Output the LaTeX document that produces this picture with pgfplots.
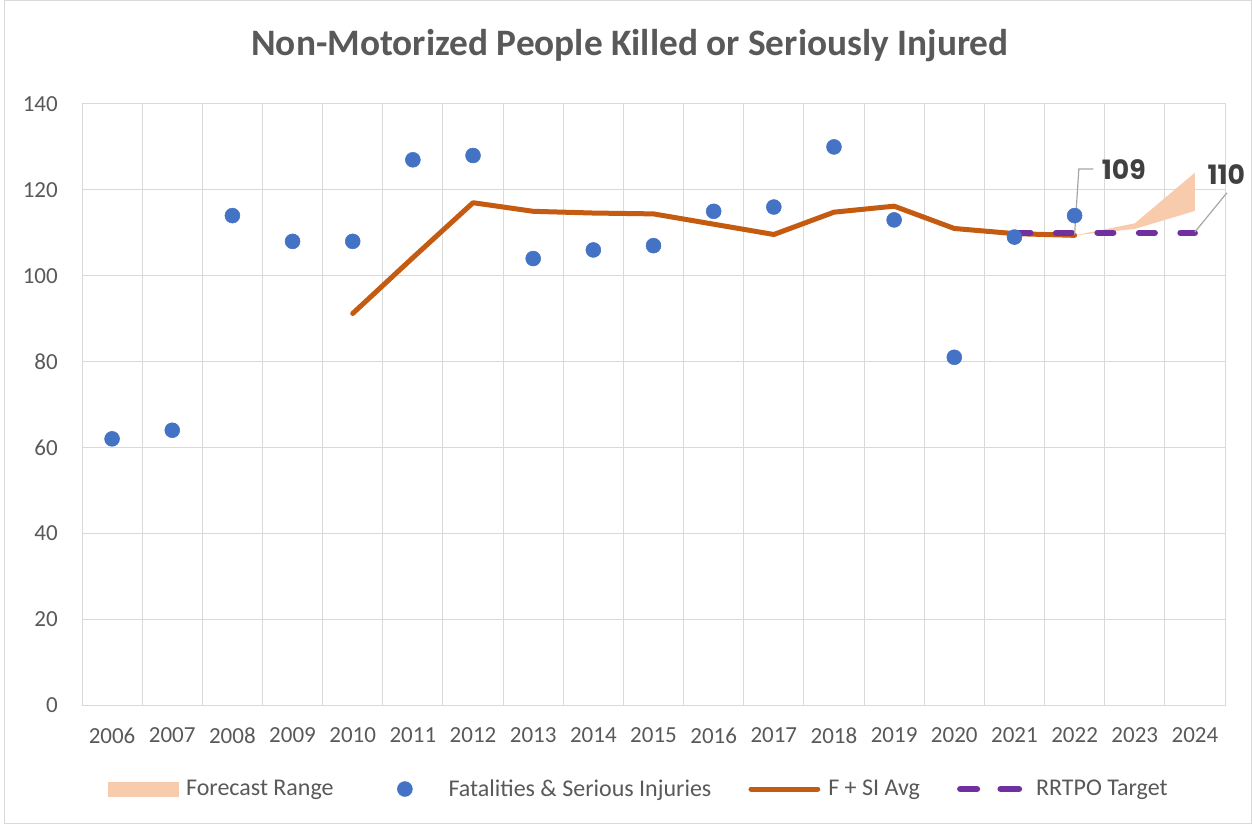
\documentclass[border=0pt]{standalone}
\usepackage{fontspec}
\setmainfont{Carlito}
\newfontfamily\poppins{Poppins}
\usepackage{pgfplots}
\pgfplotsset{compat=1.18}
\definecolor{gridc}{HTML}{D9D9D9}
\definecolor{txt}{HTML}{595959}
\definecolor{dotc}{HTML}{4472C4}
\definecolor{avgc}{HTML}{C55A11}
\definecolor{tgtc}{HTML}{7030A0}
\definecolor{fcc}{HTML}{F8CBAD}
\definecolor{lblc}{HTML}{404040}
\definecolor{leadc}{HTML}{A6A6A6}
\begin{document}
\begin{tikzpicture}[x=0.75pt,y=0.75pt]
\useasboundingbox (0,0) rectangle (1252,824);
\draw[gridc, line width=0.75pt] (4.5,0.5) rectangle (1251.5,823.5);
\node[txt, font=\fontsize{28}{33}\selectfont\bfseries] at (630,778) {Non-Motorized People Killed or Seriously Injured};
\begin{axis}[
  at={(61.5pt,89.25pt)}, anchor=south west,
  scale only axis, width=857.25pt, height=450.75pt,
  xmin=0, xmax=19, ymin=0, ymax=140,
  xtick={0.5,1.5,2.5,3.5,4.5,5.5,6.5,7.5,8.5,9.5,10.5,11.5,12.5,13.5,14.5,15.5,16.5,17.5,18.5},
  xticklabels={2006,2007,2008,2009,2010,2011,2012,2013,2014,2015,2016,2017,2018,2019,2020,2021,2022,2023,2024},
  minor xtick={0,1,...,19},
  ytick={0,20,...,140},
  xminorgrids, ymajorgrids,
  grid style={gridc, line width=0.75pt},
  minor grid style={gridc, line width=0.75pt},
  axis line style={gridc, line width=0.75pt},
  major tick length=0pt, minor tick length=0pt,
  tick style={draw=none},
  /pgf/number format/assume math mode=true,
  ticklabel style={font=\fontsize{17.25}{20}\selectfont, text=txt},
  xticklabel style={inner sep=0pt, anchor=north, yshift=-17pt},
  yticklabel style={inner sep=0pt, anchor=east, xshift=-18pt},
  clip=false,
  legend columns=4,
  legend style={at={(axis description cs:0.0227,-0.1398)}, anchor=west, draw=none, fill=none, inner sep=0pt,
    font=\fontsize{18}{21}\selectfont, text=txt,
    nodes={inner sep=0pt, anchor=west},
    /tikz/every odd column/.append style={column sep=6pt},
    /tikz/every even column/.append style={column sep=27.75pt}},
]
% forecast range
\addplot[fill=fcc, draw=none, forget plot] coordinates {(16.5,109.4) (17.5,112.2) (18.5,124.0) (18.5,115.1) (17.5,110.9) (16.5,109.4)} -- cycle;
% 5-year average
\addplot[avgc, line width=3.75pt, line cap=round, line join=round, forget plot] coordinates {
(4.5,91.2) (5.5,104.2) (6.5,117.0) (7.5,115.0) (8.5,114.6) (9.5,114.4) (10.5,112.0) (11.5,109.6) (12.5,114.8) (13.5,116.2) (14.5,111.0) (15.5,109.8) (16.5,109.4)};
% target
\addplot[tgtc, line width=4.5pt, line cap=round, dash pattern=on 12pt off 19.1pt, forget plot] coordinates {
(15.5,110) (16.5,110) (17.5,110) (18.5,110)};
% annual values
\addplot[only marks, mark=*, mark size=5.6pt, mark options={draw=dotc, fill=dotc}, forget plot] coordinates {
(0.5,62) (1.5,64) (2.5,114) (3.5,108) (4.5,108) (5.5,127) (6.5,128) (7.5,104) (8.5,106) (9.5,107) (10.5,115) (11.5,116) (12.5,130) (13.5,113) (14.5,81) (15.5,109) (16.5,114)};
% leader lines and labels
\draw[leadc, line width=0.9pt] (axis cs:16.5,109.6) -- (axis cs:16.57,124.85) -- (axis cs:16.81,124.85);
\draw[leadc, line width=0.9pt] (axis cs:18.5,110.2) -- (axis cs:19.03,119.3);
\node[lblc, font=\poppins\bfseries\fontsize{20}{24}\selectfont, inner sep=0pt, anchor=west] at (axis cs:16.95,124.7) {109};
\node[lblc, font=\poppins\bfseries\fontsize{20}{24}\selectfont, inner sep=0pt, anchor=center] at (axis cs:19.02,123.6) {110};
% legend
\addlegendimage{legend image code/.code={\fill[fcc] (0pt,-5.25pt) rectangle (52pt,5.25pt);}}
\addlegendentry{Forecast Range}
\addlegendimage{legend image code/.code={\path (0pt,0pt) (52pt,0pt); \fill[dotc] (25.5pt,0pt) circle (5.6pt);}}
\addlegendentry{Fatalities \& Serious Injuries}
\addlegendimage{legend image code/.code={\draw[avgc, line width=3.75pt, line cap=round] (1.9pt,0pt) -- (52pt,0pt);}}
\addlegendentry{F + SI Avg}
\addlegendimage{legend image code/.code={\draw[tgtc, line width=4.5pt, line cap=round] (2.25pt,0pt) -- (15pt,0pt) (32.5pt,0pt) -- (46.5pt,0pt); \path (0pt,0pt) (53pt,0pt);}}
\addlegendentry{RRTPO Target}
\end{axis}
\end{tikzpicture}
\end{document}
